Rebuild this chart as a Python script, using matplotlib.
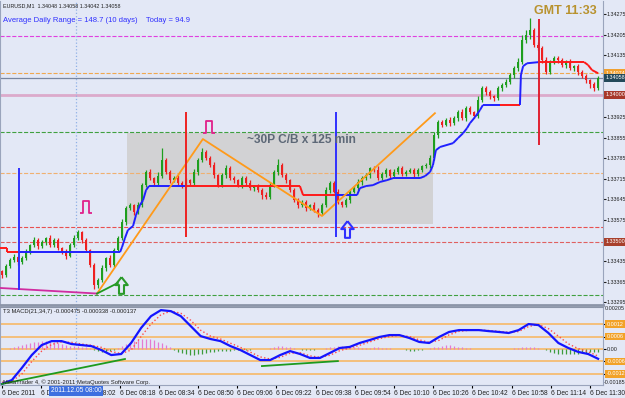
import numpy as np
import matplotlib.pyplot as plt
import matplotlib.transforms as mtransforms
from matplotlib.patches import Rectangle
from matplotlib.path import Path

plt.rcParams['font.family'] = ['Liberation Sans', 'DejaVu Sans']

# ---- candles (EURUSD M1, closes) ----
first_open = 1.33400
closes = [
    1.33387, 1.33418, 1.33438, 1.33448, 1.33431, 1.33445, 1.33465, 1.33489, 1.33506, 1.33486,
    1.33499, 1.33513, 1.33489, 1.33506, 1.33479, 1.33465, 1.33452, 1.33489, 1.33513, 1.33533,
    1.33506, 1.33472, 1.33421, 1.33353, 1.33370, 1.33411, 1.33445, 1.33421, 1.33472, 1.33513,
    1.33567, 1.33615, 1.33625, 1.33601, 1.33625, 1.33693, 1.33738, 1.33717, 1.33700, 1.33724,
    1.33778, 1.33738, 1.33710, 1.33717, 1.33700, 1.33693, 1.33710, 1.33700, 1.33738, 1.33778,
    1.33806, 1.33785, 1.33761, 1.33727, 1.33693, 1.33727, 1.33751, 1.33717, 1.33710, 1.33693,
    1.33717, 1.33700, 1.33683, 1.33690, 1.33676, 1.33659, 1.33653, 1.33693, 1.33738, 1.33761,
    1.33727, 1.33710, 1.33676, 1.33642, 1.33625, 1.33635, 1.33615, 1.33625, 1.33608, 1.33598,
    1.33625, 1.33676, 1.33700, 1.33670, 1.33635, 1.33625, 1.33642, 1.33670, 1.33683, 1.33704,
    1.33717, 1.33727, 1.33751, 1.33744, 1.33717, 1.33731, 1.33744, 1.33724, 1.33738, 1.33751,
    1.33731, 1.33738, 1.33744, 1.33731, 1.33744, 1.33758, 1.33761, 1.33785, 1.33863, 1.33908,
    1.33898, 1.33915, 1.33904, 1.33921, 1.33942, 1.33921, 1.33955, 1.33942, 1.33928, 1.33983,
    1.34023, 1.34010, 1.33996, 1.33989, 1.34023, 1.34034, 1.34044, 1.34068, 1.34091, 1.34112,
    1.34187, 1.34204, 1.34221, 1.34170, 1.34160, 1.34119, 1.34078, 1.34112, 1.34126, 1.34119,
    1.34102, 1.34112, 1.34091, 1.34098, 1.34078, 1.34064, 1.34051, 1.34037, 1.34023, 1.34058,
]
# wick lengths in points (0.00001)
wick_up_pts = [
    5, 8, 6, 10, 4, 7, 9, 5, 12, 6, 8, 5, 10, 6, 7, 4, 9, 8, 12, 6,
    5, 7, 4, 8, 6, 10, 5, 9, 6, 8, 10, 6, 8, 5, 12, 7, 6, 9, 5, 14,
    40, 8, 5, 7, 10, 6, 8, 5, 9, 6, 12, 8, 6, 10, 5, 7, 9, 6, 8, 5,
    7, 6, 9, 5, 8, 6, 12, 10, 7, 20, 8, 6, 5, 9, 7, 6, 8, 5, 10, 6,
    7, 12, 8, 6, 9, 5, 7, 6, 8, 10, 6, 8, 5, 7, 14, 6, 8, 5, 9, 6,
    8, 5, 7, 6, 9, 5, 8, 10, 12, 6, 8, 5, 9, 6, 7, 10, 6, 8, 5, 14,
    9, 6, 8, 5, 7, 6, 10, 8, 9, 14, 16, 18, 40, 8, 9, 6, 12, 8, 7, 6,
    8, 6, 9, 5, 7, 6, 8, 5, 6, 7,
]
wick_dn_pts = [
    10, 6, 8, 5, 9, 7, 6, 8, 5, 10, 6, 9, 5, 8, 6, 7, 10, 5, 8, 6,
    9, 6, 8, 12, 10, 7, 9, 6, 8, 5, 7, 8, 6, 9, 5, 8, 7, 6, 10, 5,
    8, 6, 9, 5, 7, 10, 6, 8, 5, 9, 6, 8, 5, 10, 7, 6, 9, 5, 8, 6,
    8, 6, 7, 9, 5, 12, 6, 8, 7, 9, 6, 8, 5, 7, 9, 6, 10, 8, 5, 12,
    8, 6, 9, 5, 7, 8, 6, 10, 5, 7, 9, 6, 8, 5, 7, 6, 9, 8, 5, 7,
    6, 8, 5, 9, 7, 6, 8, 10, 6, 9, 7, 5, 9, 6, 8, 5, 10, 6, 8, 7,
    6, 9, 8, 10, 5, 8, 7, 6, 9, 8, 6, 10, 12, 8, 6, 9, 7, 8, 6, 10,
    7, 9, 6, 8, 10, 7, 9, 12, 8, 6,
]

# ---- time axis: minutes after 07:30 ----
time_ticks = list(range(0, 241, 16))
time_labels = ['6 Dec 2011', '6 Dec 07:46', '6 Dec 08:02', '6 Dec 08:18', '6 Dec 08:34',
               '6 Dec 08:50', '6 Dec 09:06', '6 Dec 09:22', '6 Dec 09:38', '6 Dec 09:54',
               '6 Dec 10:10', '6 Dec 10:26', '6 Dec 10:42', '6 Dec 10:58', '6 Dec 11:14',
               '6 Dec 11:30']

# ---- trailing step line (red = short, blue = long) ----
trend_t = [-0.8, 2.0, 2.0, 6.9, 48.2, 49.0, 50.2, 51.4, 53.5, 54.7, 56.3, 57.6, 58.8, 60.0,
           75.1, 121.6, 122.9, 136.3, 144.9, 146.1, 148.6, 151.4, 154.3, 157.1, 159.6, 162.4,
           170.6, 172.7, 174.7, 175.9, 177.1, 178.8, 184.1, 186.1, 188.2, 189.8, 191.0, 193.1,
           195.1, 196.3, 203.3, 211.4, 211.8, 212.7, 214.3, 219.2, 237.6, 239.2, 240.8, 243.3]
trend_p = [1.33479, 1.33479, 1.33465, 1.33465, 1.33465, 1.33482, 1.33513, 1.33540, 1.33554,
           1.33591, 1.33625, 1.33642, 1.33676, 1.33690, 1.33690, 1.33690, 1.33659, 1.33659,
           1.33659, 1.33683, 1.33690, 1.33693, 1.33704, 1.33710, 1.33717, 1.33717, 1.33717,
           1.33724, 1.33738, 1.33761, 1.33812, 1.33823, 1.33836, 1.33853, 1.33870, 1.33887,
           1.33904, 1.33925, 1.33949, 1.33966, 1.33966, 1.33966, 1.34068, 1.34098, 1.34108,
           1.34112, 1.34112, 1.34102, 1.34085, 1.34074]
trend_switch = [6.9, 75.1, 136.3, 203.3, 211.4, 219.2]

# ---- zigzag and trendlines ----
zigzag_t = [38.8, 82.0, 130.6, 176.7]
zigzag_p = [1.33324, 1.33850, 1.33588, 1.33938]
support_t = [-0.8, 38.8]
support_p = [1.33343, 1.33324]
rise_t = [38.8, 47.3]
rise_p = [1.33324, 1.33360]

# ---- vertical markers ----
vline_t = [6.9, 75.1, 136.3, 219.2]
vline_lo = [1.33336, 1.33516, 1.33516, 1.33829]
vline_hi = [1.33751, 1.33942, 1.33942, 1.34258]
vline_col = ['#3030ff', '#ee2222', '#3030ff', '#e02030']
separator_t = 30.2

# ---- horizontal levels ----
level_p = [1.34200, 1.34074, 1.34058, 1.34000, 1.33874, 1.33734, 1.33550, 1.33500, 1.33320]
level_col = ['#e040e0', '#f0a850', '#7886a0', '#dcaacb', '#40a040', '#f0b070', '#e85050', '#e06060', '#40a040']
level_ls = ['--', '--', '-', '-', '--', '--', '--', '--', '--']
level_lw = [0.8, 0.8, 0.9, 2.0, 0.8, 0.8, 0.8, 0.8, 0.8]

# ---- consolidation box ----
box_t = [51.0, 175.9]
box_p = [1.33561, 1.33870]

# ---- signals ----
pulse_t = [34.3, 84.5]
pulse_p = [1.33618, 1.33891]
arrow_t = [48.6, 140.8]
arrow_p = [1.33353, 1.33544]
arrow_col = ['#2a9a2a', '#3030ff']

# ---- price scale labels ----
price_ticks = [1.34275, 1.34205, 1.34135, 1.33925, 1.33855, 1.33785, 1.33715,
               1.33645, 1.33575, 1.33435, 1.33365, 1.33295]
tag_p = [1.34074, 1.34058, 1.34000, 1.33500]
tag_col = ['#f0a030', '#23495a', '#a8382a', '#a8402c']

# ---- T3 MACD(21,34,7) ----
macd = [-0.00168, -0.00149, -0.00091, -0.00029, 0.00019, 0.00038, 0.00038, 0.00024, 0.00019,
        0.00014, -0.00005, -0.00029, -0.00024, 0.00029, 0.00101, 0.00158, 0.00187, 0.00182,
        0.00158, 0.00110, 0.00062, 0.00048, 0.00038, 0.00014, -0.00005, -0.00029, -0.00053,
        -0.00053, -0.00029, -0.00010, -0.00024, -0.00043, -0.00043, -0.00019, 0.00005, 0.00010,
        0.00029, 0.00043, 0.00058, 0.00067, 0.00067, 0.00053, 0.00034, 0.00029, 0.00058,
        0.00082, 0.00091, 0.00091, 0.00091, 0.00086, 0.00082, 0.00077, 0.00091, 0.00120,
        0.00115, 0.00077, 0.00029, 0.00005, -0.00014, -0.00024, -0.00047]
signal = [-0.00160, -0.00155, -0.00120, -0.00060, -0.00010, 0.00022, 0.00034, 0.00032, 0.00024,
          0.00018, 0.00008, -0.00012, -0.00022, -0.00005, 0.00060, 0.00120, 0.00165, 0.00182,
          0.00172, 0.00138, 0.00090, 0.00062, 0.00048, 0.00028, 0.00008, -0.00015, -0.00038,
          -0.00048, -0.00040, -0.00020, -0.00018, -0.00033, -0.00040, -0.00030, -0.00008, 0.00005,
          0.00018, 0.00034, 0.00050, 0.00060, 0.00066, 0.00060, 0.00044, 0.00032, 0.00042,
          0.00068, 0.00085, 0.00090, 0.00091, 0.00089, 0.00085, 0.00080, 0.00084, 0.00108,
          0.00118, 0.00098, 0.00062, 0.00025, 0.00002, -0.00013, -0.00034]
hist_pts = [
    0, 0, 5, 10, 15, 20, 25, 30, 33, 36, 38, 38, 36, 33, 28, 22, 17, 15, 15, 14,
    12, 10, 5, -3, -8, -12, -12, -8, -3, 5, 15, 25, 33, 40, 45, 48, 48, 46, 42, 36,
    28, 18, 8, -3, -12, -20, -25, -27, -27, -25, -22, -18, -15, -12, -10, -9, -8, -8, -6, -5,
    -4, -3, -3, -2, -2, -1, 2, 6, 10, 13, 14, 12, 8, 3, -2, -4, -5, -4, -3, -2,
    0, 4, 8, 12, 14, 15, 14, 12, 10, 8, 6, 5, 6, 8, 8, 7, 6, 4, 2, 0,
    -2, -5, -8, -9, -7, -3, 1, 4, 8, 12, 15, 17, 17, 15, 12, 9, 6, 3, 1, 0,
    0, -1, -1, -1, 0, 0, 1, 2, 4, 7, 10, 12, 12, 10, 6, 1, -6, -14, -20, -24,
    -26, -26, -25, -24, -22, -20, -18, -16, -14, -13,
]
macd_levels = [0.0012, 0.0006, 0.0, -0.0006, -0.0012]
macd_level_labels = ['0.0012', '0.0006', '0.00', '-0.0006', '-0.0012']

BG = '#e3e8f6'
W, H = 625, 398
LBL = 3.9
fig = plt.figure(figsize=(W / 100, H / 100), dpi=100, facecolor=BG)
ax = fig.add_axes([0, 1 - 305 / H, 603 / W, 304 / H], facecolor=BG)
ax2 = fig.add_axes([0, 13 / H, 603 / W, 78 / H], facecolor=BG, sharex=ax)

# ---- main price panel ----
candle_t = np.linspace(0, 243.3, len(closes))
c = np.array(closes)
o = np.r_[first_open, c[:-1]]
hi = np.maximum(o, c) + np.array(wick_up_pts) * 1e-5
lo = np.minimum(o, c) - np.array(wick_dn_pts) * 1e-5
col = np.where(c >= o, '#1e9e1e', '#ee2020')

ax.add_patch(Rectangle((box_t[0], box_p[0]), box_t[1] - box_t[0], box_p[1] - box_p[0],
                       facecolor='#d2d2d4', edgecolor='none', zorder=0.5))
for p, cl, ls, lw in zip(level_p, level_col, level_ls, level_lw):
    ax.axhline(p, color=cl, ls=ls, lw=lw, zorder=1)
ax.axvline(separator_t, color='#8fb0e6', ls=':', lw=0.9, zorder=1)
ax2.axvline(separator_t, color='#8fb0e6', ls=':', lw=0.9, zorder=1)

ax.vlines(candle_t, lo, hi, colors=col, lw=0.9, zorder=2)
ax.bar(candle_t, np.maximum(np.abs(c - o), 0.00002), bottom=np.minimum(o, c), width=1.05,
       color=col, linewidth=0, zorder=2.1)

# step line coloured by side
tt = np.array(trend_t)
tp = np.array(trend_p)
for i in range(len(tt) - 1):
    mid = 0.5 * (tt[i] + tt[i + 1])
    side = sum(s <= mid for s in trend_switch) % 2
    ax.plot(tt[i:i + 2], tp[i:i + 2], color='#2020ff' if side else '#ff1a1a', lw=1.4,
            zorder=3, solid_capstyle='butt')

ax.plot(zigzag_t, zigzag_p, color='#ff9a1a', lw=1.3, zorder=3.2)
ax.plot(support_t, support_p, color='#d02ca0', lw=1.3, zorder=3.2)
ax.plot(rise_t, rise_p, color='#1e9a1e', lw=1.3, zorder=3.2)
ax.vlines(vline_t, vline_lo, vline_hi, colors=vline_col, lw=1.4, zorder=3.4)

pulse = Path([(-1, -1), (-0.45, -1), (-0.45, 1), (0.45, 1), (0.45, -1), (1, -1)])
arrow = Path([(0, 1), (-0.75, 0.05), (-0.3, 0.05), (-0.3, -1), (0.3, -1), (0.3, 0.05),
              (0.75, 0.05), (0, 1)])
ax.plot(pulse_t, pulse_p, ls='none', marker=pulse, ms=9, mfc='none', mec='#e0208a', mew=1.3,
        zorder=4)
for t, p, cl in zip(arrow_t, arrow_p, arrow_col):
    ax.plot(t, p, ls='none', marker=arrow, ms=12, mfc='none', mec=cl, mew=1.5, zorder=4)

ax.text(122.4, 1.33847, '~30P C/B x 125 min', color='#5d6877', fontsize=8.6, weight='bold',
        ha='center', va='center', zorder=5)

ax.set_xlim(-0.8, 245.3)
ax.set_ylim(1.33285, 1.34320)
ax.yaxis.tick_right()
ax.set_yticks(price_ticks)
ax.set_yticklabels([f'{p:.5f}' for p in price_ticks])
ax.tick_params(axis='y', labelsize=LBL, length=2, pad=0.8, colors='#202020')
ax.tick_params(axis='x', bottom=False, labelbottom=False)
blend = mtransforms.blended_transform_factory(ax.transAxes, ax.transData)
for p, cl in zip(tag_p, tag_col):
    ax.text(1.004, p, f'{p:.5f}', transform=blend, fontsize=LBL, color='white', ha='left',
            va='center', clip_on=False, zorder=6,
            bbox=dict(boxstyle='square,pad=0.25', fc=cl, ec='none'))
ax.spines['top'].set_visible(False)
ax.spines['left'].set_color('#9aa4bc')
ax.spines['right'].set_color('#9aa4bc')
ax.spines['bottom'].set_color('#8c95a8')
ax.spines['bottom'].set_linewidth(2)

# ---- MACD panel ----
macd_t = np.linspace(0, 243.3, len(macd))
hist = np.array(hist_pts) * 1e-5
for lvl in macd_levels:
    ax2.axhline(lvl, color='#f7b866', lw=1.2, zorder=1)
ax2.vlines(candle_t, 0, hist, colors=np.where(hist > 0, '#e47ad2', '#3c9c3c'), lw=0.9, zorder=2)
ax2.plot(macd_t, signal, color='#ff4a4a', ls=':', lw=1.0, zorder=3)
ax2.plot(macd_t, macd, color='#1414ff', lw=1.6, zorder=4)
ax2.plot([0, 50.2], [-0.00168, -0.00048], color='#1e9a1e', lw=1.3, zorder=4)
ax2.plot([106.1, 137.1], [-0.00082, -0.00058], color='#1e9a1e', lw=1.3, zorder=4)
ax2.set_ylim(-0.00173, 0.00202)
ax2.set_yticks(macd_levels)
ax2.set_yticklabels([])
ax2.tick_params(axis='y', right=True, left=False, length=2, labelright=False)
blend2 = mtransforms.blended_transform_factory(ax2.transAxes, ax2.transData)
for lvl, lab in zip(macd_levels, macd_level_labels):
    if lvl == 0:
        ax2.text(1.006, lvl, lab, transform=blend2, fontsize=LBL, color='#202020',
                 ha='left', va='center', clip_on=False)
    else:
        ax2.text(1.006, lvl, lab, transform=blend2, fontsize=LBL, color='white', ha='left',
                 va='center', clip_on=False,
                 bbox=dict(boxstyle='square,pad=0.25', fc='#f2a228', ec='none'))
ax2.set_xticks(time_ticks)
ax2.set_xticklabels(time_labels, fontsize=4.8, color='#202020')
for lab in ax2.get_xticklabels():
    lab.set_ha('left')
ax2.tick_params(axis='x', length=2, pad=1.5)
ax2.spines['top'].set_color('#8c95a8')
ax2.spines['left'].set_color('#9aa4bc')
ax2.spines['right'].set_color('#9aa4bc')
ax2.spines['bottom'].set_color('#9aa4bc')

# ---- header and overlay texts ----
fig.text(3 / W, 1 - 6 / H, 'EURUSD,M1  1.34048 1.34058 1.34042 1.34058', fontsize=3.9,
         color='#202020', va='center')
fig.text(3 / W, 1 - 20 / H, 'Average Daily Range = 148.7 (10 days)    Today = 94.9',
         fontsize=5.5, color='#3030ff', va='center')
fig.text(597 / W, 1 - 11 / H, 'GMT 11:33', fontsize=9, weight='bold', color='#b8922e',
         ha='right', va='center')
fig.text(3 / W, 1 - 311 / H, 'T3 MACD(21,34,7) -0.000475 -0.000338 -0.000137', fontsize=4.2,
         color='#202020', va='center')
fig.text(3 / W, 1 - 382 / H, 'MetaTrader 4, \u00a9 2001-2011 MetaQuotes Software Corp.',
         fontsize=4.2, color='#202020', va='center')
fig.text(605 / W, 1 - 309 / H, '0.00205', fontsize=LBL, color='#202020', va='center')
fig.text(604 / W, 1 - 383 / H, '-0.00185', fontsize=LBL, color='#202020', va='center')
fig.text(76 / W, 1 - 391 / H, '2011.12.05 08:00', fontsize=4.8, color='white', ha='center',
         va='center', zorder=10,
         bbox=dict(boxstyle='square,pad=0.2', fc='#3d6fe0', ec='none'))

fig.savefig('out.png', dpi=100, facecolor=BG)
